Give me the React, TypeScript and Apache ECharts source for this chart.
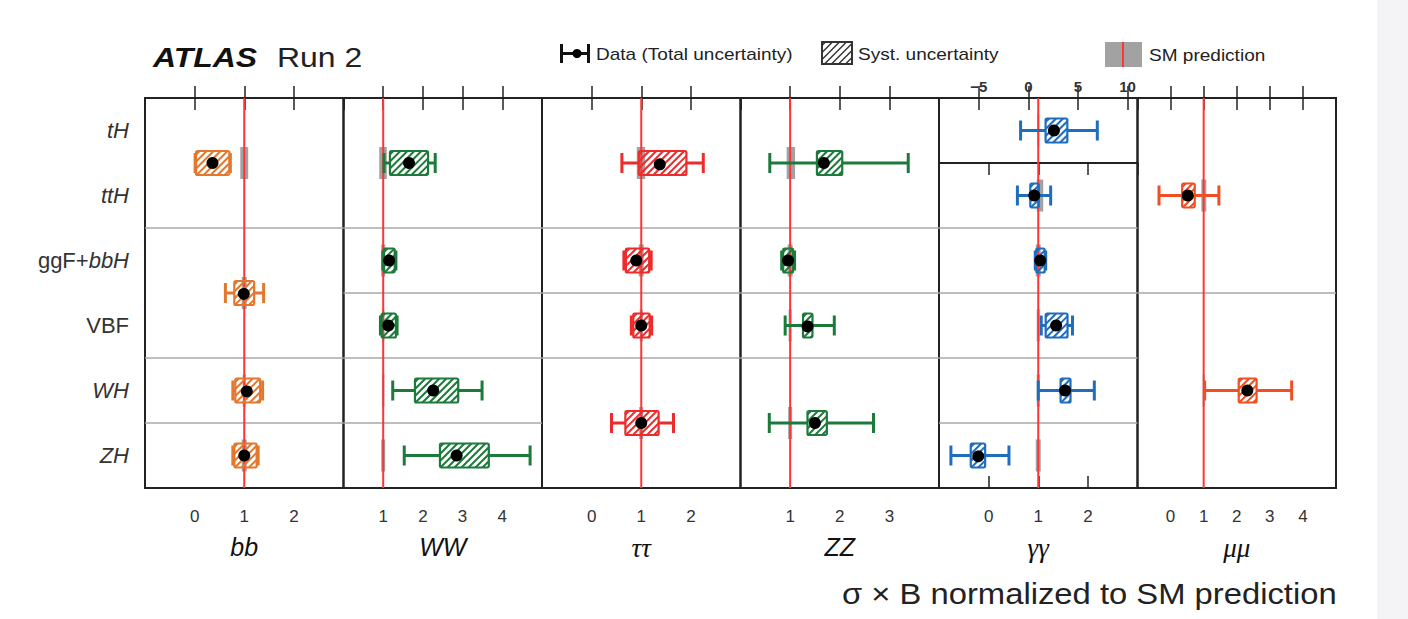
import React, { useEffect, useRef } from 'react';
import * as echarts from 'echarts';

// ---------------- data ----------------
const productionModes = ['tH', 'ttH', 'ggF+bbH', 'VBF', 'WH', 'ZH'];
const decayChannels = ['bb', 'WW', 'ττ', 'ZZ', 'γγ', 'μμ'];
const smPrediction = 1;

// each point: [row centre, value, total lo, total hi, syst lo, syst hi, SM band lo, SM band hi]
const bbPoints = [
  [1.0, 0.36, 0.01, 0.72, 0.03, 0.7, 0.92, 1.08],
  [3.0, 0.99, 0.62, 1.39, 0.8, 1.2, 0.95, 1.05],
  [4.5, 1.05, 0.77, 1.37, 0.82, 1.32, 0.97, 1.03],
  [5.5, 1.0, 0.77, 1.28, 0.8, 1.25, 0.95, 1.05],
];
const wwPoints = [
  [1.0, 1.65, 1.02, 2.31, 1.17, 2.13, 0.9, 1.09],
  [2.5, 1.15, 0.99, 1.32, 1.02, 1.29, 0.95, 1.05],
  [3.5, 1.13, 0.93, 1.35, 0.96, 1.32, 0.97, 1.03],
  [4.5, 2.26, 1.24, 3.49, 1.8, 2.89, 0.97, 1.03],
  [5.5, 2.85, 1.53, 4.7, 2.43, 3.66, 0.95, 1.05],
];
const tautauPoints = [
  [1.0, 1.37, 0.61, 2.25, 0.95, 1.91, 0.91, 1.08],
  [2.5, 0.9, 0.65, 1.2, 0.69, 1.16, 0.95, 1.05],
  [3.5, 1.0, 0.8, 1.21, 0.84, 1.17, 0.97, 1.03],
  [5.0, 1.0, 0.4, 1.65, 0.68, 1.35, 0.96, 1.04],
];
const zzPoints = [
  [1.0, 1.68, 0.59, 3.38, 1.54, 2.05, 0.93, 1.1],
  [2.5, 0.96, 0.83, 1.09, 0.86, 1.06, 0.95, 1.05],
  [3.5, 1.35, 0.9, 1.89, 1.26, 1.45, 0.97, 1.03],
  [5.0, 1.5, 0.58, 2.68, 1.35, 1.74, 0.96, 1.04],
];
const gamgamTHPoints = [[0.5, 2.58, -0.78, 6.95, 1.74, 3.93, 0.9, 1.1]];
const gamgamPoints = [
  [1.5, 0.92, 0.58, 1.25, 0.84, 1.01, 0.97, 1.1],
  [2.5, 1.04, 0.94, 1.15, 0.96, 1.13, 0.95, 1.05],
  [3.5, 1.36, 1.06, 1.69, 1.15, 1.59, 0.97, 1.03],
  [4.5, 1.54, 1.0, 2.13, 1.45, 1.65, 0.97, 1.03],
  [5.5, -0.21, -0.76, 0.41, -0.36, -0.07, 0.95, 1.05],
];
const mumuPoints = [
  [1.5, 0.52, -0.35, 1.46, 0.35, 0.73, 0.93, 1.08],
  [4.5, 2.32, 1.03, 3.66, 2.06, 2.6, 0.97, 1.03],
];

// row boundaries drawn as grey separators
const bbSeparators = [2, 4, 5];
const wwSeparators = [2, 3, 4, 5];
const tautauSeparators = [2, 3, 4];
const zzSeparators = [2, 3, 4];
const gamgamSeparators = [2, 3, 4, 5];
const mumuSeparators = [3];

const gamgamTHTicks = [-5, 0, 5, 10];

// ---------------- style / layout ----------------
const SANS = '"Liberation Sans", Arial, Helvetica, sans-serif';
const SERIF = '"Liberation Serif", "DejaVu Serif", serif';

const panels = [
  { name: decayChannels[0], min: -1, max: 3, color: '#e3772d', points: bbPoints, seps: bbSeparators, greek: false },
  { name: decayChannels[1], min: 0, max: 5, color: '#1c7a3b', points: wwPoints, seps: wwSeparators, greek: false },
  { name: decayChannels[2], min: -1, max: 3, color: '#ee2b2b', points: tautauPoints, seps: tautauSeparators, greek: true },
  { name: decayChannels[3], min: 0, max: 4, color: '#1c7a3b', points: zzPoints, seps: zzSeparators, greek: false },
  { name: decayChannels[4], min: -1, max: 3, color: '#1f6dbd', points: gamgamPoints, seps: gamgamSeparators, greek: true },
  { name: decayChannels[5], min: -1, max: 5, color: '#f04e23', points: mumuPoints, seps: mumuSeparators, greek: true },
];

const L0 = 145;
const PW = 198.5;
const TOP = 98;
const H = 390;
const ROW = 65;

function hatchLines(x0: number, y0: number, w: number, h: number, step: number) {
  const segs: number[][] = [];
  const cStart = x0 + y0;
  const cEnd = x0 + w + y0 + h;
  for (let c = cStart + step / 2; c < cEnd; c += step) {
    const xa = Math.max(x0, c - (y0 + h));
    const xb = Math.min(x0 + w, c - y0);
    if (xb > xa + 0.3) segs.push([xa, c - xa, xb, c - xb]);
  }
  return segs;
}

const renderBand = (params: any, api: any) => {
  const row = api.value(0);
  const a = api.coord([api.value(6), row]);
  const b = api.coord([api.value(7), row]);
  return {
    type: 'rect',
    shape: { x: a[0], y: a[1] - 16, width: Math.max(1.5, b[0] - a[0]), height: 32 },
    style: { fill: '#a2a2a2' },
  };
};

const renderSmLine = (params: any, api: any) => {
  const cs = params.coordSys;
  const x = api.coord([api.value(1), api.value(0)])[0];
  return {
    type: 'line',
    shape: { x1: x, y1: cs.y, x2: x, y2: cs.y + cs.height },
    style: { stroke: '#ff3535', lineWidth: 2 },
  };
};

const renderSeparator = (params: any, api: any) => {
  const cs = params.coordSys;
  const y = api.coord([api.value(1), api.value(0)])[1];
  return {
    type: 'line',
    shape: { x1: cs.x, y1: y, x2: cs.x + cs.width, y2: y },
    style: { stroke: '#a9a9a9', lineWidth: 1.5 },
  };
};

const makeRenderPoint = (color: string) => (params: any, api: any) => {
  const row = api.value(0);
  const c = api.coord([api.value(1), row]);
  const tl = api.coord([api.value(2), row])[0];
  const th = api.coord([api.value(3), row])[0];
  const sl = api.coord([api.value(4), row])[0];
  const sh = api.coord([api.value(5), row])[0];
  const y = c[1];
  const children: any[] = [];
  const bx = sl;
  const bw = sh - sl;
  const by = y - 12;
  const bh = 24;
  hatchLines(bx, by, bw, bh, 7).forEach((s) => {
    children.push({
      type: 'line',
      shape: { x1: s[0], y1: s[1], x2: s[2], y2: s[3] },
      style: { stroke: color, lineWidth: 2 },
    });
  });
  children.push({
    type: 'rect',
    shape: { x: bx, y: by, width: bw, height: bh, r: 1.5 },
    style: { fill: 'none', stroke: color, lineWidth: 2.2 },
  });
  if (sl - tl > 0.5) {
    children.push({ type: 'line', shape: { x1: tl, y1: y, x2: sl, y2: y }, style: { stroke: color, lineWidth: 3 } });
  }
  if (th - sh > 0.5) {
    children.push({ type: 'line', shape: { x1: sh, y1: y, x2: th, y2: y }, style: { stroke: color, lineWidth: 3 } });
  }
  [tl, th].forEach((x) => {
    children.push({ type: 'line', shape: { x1: x, y1: y - 10, x2: x, y2: y + 10 }, style: { stroke: color, lineWidth: 3 } });
  });
  children.push({ type: 'circle', shape: { cx: c[0], cy: y, r: 6 }, style: { fill: '#000' } });
  return { type: 'group', children };
};

function yLabel(v: number) {
  const k = Math.round(v * 2);
  if (k % 2 === 0) return '';
  const lab = productionModes[(k - 1) / 2];
  if (!lab) return '';
  if (lab.startsWith('ggF+')) return '{n|ggF+}{i|' + lab.slice(4) + '}';
  if (lab === 'VBF') return '{n|VBF}';
  return '{i|' + lab + '}';
}

function buildOption() {
  const grid: any[] = [];
  const xAxis: any[] = [];
  const yAxis: any[] = [];
  const series: any[] = [];

  const tick = { show: true, inside: true, length: 12, lineStyle: { color: '#222', width: 1.5 } };

  panels.forEach((p, i) => {
    const isGG = i === 4;
    grid.push({
      left: L0 + i * PW,
      top: isGG ? TOP + ROW : TOP,
      width: PW,
      height: isGG ? H - ROW : H,
      show: true,
      borderColor: '#222',
      borderWidth: 2,
      backgroundColor: 'transparent',
    });
    xAxis.push({
      type: 'value',
      gridIndex: i,
      position: 'bottom',
      min: p.min,
      max: p.max,
      interval: 1,
      axisLine: { show: false },
      splitLine: { show: false },
      axisTick: tick,
      axisLabel: {
        show: true,
        showMinLabel: false,
        showMaxLabel: false,
        margin: 20,
        fontSize: 17,
        color: '#333',
        fontFamily: SANS,
      },
      name: p.name,
      nameLocation: 'middle',
      nameGap: 46,
      nameTextStyle: {
        fontStyle: 'italic',
        fontFamily: p.greek ? SERIF : SANS,
        fontSize: p.greek ? 27 : 25,
        color: '#111',
      },
    });
    xAxis.push({
      type: 'value',
      gridIndex: i,
      position: 'top',
      min: p.min,
      max: p.max,
      interval: 1,
      axisLine: { show: false },
      splitLine: { show: false },
      axisTick: tick,
      axisLabel: { show: false },
    });
    yAxis.push({
      type: 'value',
      gridIndex: i,
      min: isGG ? 1 : 0,
      max: 6,
      interval: 0.5,
      inverse: true,
      axisLine: { show: false },
      axisTick: { show: false },
      splitLine: { show: false },
      axisLabel: i === 0
        ? {
            show: true,
            margin: 16,
            formatter: yLabel,
            fontSize: 22,
            fontFamily: SANS,
            color: '#333',
            rich: {
              i: { fontStyle: 'italic', fontSize: 22, fontFamily: SANS, color: '#333' },
              n: { fontSize: 22, fontFamily: SANS, color: '#333' },
            },
          }
        : { show: false },
    });
  });

  // γγ tH sub-panel
  grid.push({
    left: L0 + 4 * PW,
    top: TOP,
    width: PW,
    height: ROW,
    show: true,
    borderColor: '#222',
    borderWidth: 2,
    backgroundColor: 'transparent',
  });
  xAxis.push({
    type: 'value',
    gridIndex: 6,
    position: 'bottom',
    min: -9,
    max: 11,
    axisLine: { show: false },
    splitLine: { show: false },
    axisTick: { ...tick, customValues: gamgamTHTicks },
    axisLabel: { show: false },
  });
  xAxis.push({
    type: 'value',
    gridIndex: 6,
    position: 'top',
    min: -9,
    max: 11,
    axisLine: { show: false },
    splitLine: { show: false },
    axisTick: { ...tick, customValues: gamgamTHTicks },
    axisLabel: {
      show: true,
      customValues: gamgamTHTicks,
      margin: 4,
      fontSize: 15,
      fontWeight: 'bold',
      color: '#333',
      fontFamily: SANS,
      formatter: (v: number) => String(v).replace('-', '\u2212'),
    },
  });
  yAxis.push({
    type: 'value',
    gridIndex: 6,
    min: 0,
    max: 1,
    inverse: true,
    show: false,
    splitLine: { show: false },
  });

  const addSeries = (gi: number, pts: number[][], seps: number[], color: string, minV: number) => {
    const base = {
      type: 'custom',
      coordinateSystem: 'cartesian2d',
      xAxisIndex: 2 * gi,
      yAxisIndex: gi,
      encode: { x: 1, y: 0 },
      clip: false,
      silent: true,
    };
    series.push({ ...base, z: 1, renderItem: renderBand, data: pts });
    series.push({ ...base, z: 2, renderItem: renderSeparator, data: seps.map((s) => [s, minV]) });
    series.push({ ...base, z: 3, renderItem: renderSmLine, data: [[gi === 6 ? 0 : 1, smPrediction]] });
    series.push({ ...base, z: 4, renderItem: makeRenderPoint(color), data: pts });
  };

  panels.forEach((p, i) => addSeries(i, p.points, p.seps, p.color, p.min));
  addSeries(6, gamgamTHPoints, [], panels[4].color, -9);

  const legendHatch = hatchLines(822, 42, 30, 22, 7).map((s) => ({
    type: 'line',
    shape: { x1: s[0], y1: s[1], x2: s[2], y2: s[3] },
    style: { stroke: '#333', lineWidth: 1.4 },
  }));

  const graphic: any[] = [
    { type: 'rect', z: -10, shape: { x: 1377, y: 0, width: 31, height: 619 }, style: { fill: '#f4f4f6' } },
    {
      type: 'text', x: 153, y: 57, scaleX: 1.14,
      style: { text: 'ATLAS', fontSize: 28, fontWeight: 'bold', fontStyle: 'italic', fontFamily: SANS, fill: '#111', verticalAlign: 'middle', align: 'left' },
    },
    {
      type: 'text', x: 277, y: 57, scaleX: 1.14,
      style: { text: 'Run 2', fontSize: 28, fontFamily: SANS, fill: '#222', verticalAlign: 'middle', align: 'left' },
    },
    // legend: data
    { type: 'line', shape: { x1: 561, y1: 53.5, x2: 589, y2: 53.5 }, style: { stroke: '#111', lineWidth: 3 } },
    { type: 'line', shape: { x1: 561.5, y1: 44, x2: 561.5, y2: 63 }, style: { stroke: '#111', lineWidth: 3 } },
    { type: 'line', shape: { x1: 588.5, y1: 44, x2: 588.5, y2: 63 }, style: { stroke: '#111', lineWidth: 3 } },
    { type: 'circle', shape: { cx: 577, cy: 53.5, r: 4.5 }, style: { fill: '#000' } },
    {
      type: 'text', x: 596, y: 54, scaleX: 1.12,
      style: { text: 'Data (Total uncertainty)', fontSize: 17, fontFamily: SANS, fill: '#222', verticalAlign: 'middle', align: 'left' },
    },
    // legend: syst
    ...legendHatch,
    { type: 'rect', shape: { x: 822, y: 42, width: 30, height: 22 }, style: { fill: 'none', stroke: '#333', lineWidth: 2 } },
    {
      type: 'text', x: 858, y: 54, scaleX: 1.12,
      style: { text: 'Syst. uncertainty', fontSize: 17, fontFamily: SANS, fill: '#222', verticalAlign: 'middle', align: 'left' },
    },
    // legend: SM
    { type: 'rect', shape: { x: 1105, y: 42, width: 37, height: 25 }, style: { fill: '#a2a2a2' } },
    { type: 'line', shape: { x1: 1123, y1: 42, x2: 1123, y2: 67 }, style: { stroke: '#ff3535', lineWidth: 2 } },
    {
      type: 'text', x: 1149, y: 55, scaleX: 1.12,
      style: { text: 'SM prediction', fontSize: 17, fontFamily: SANS, fill: '#222', verticalAlign: 'middle', align: 'left' },
    },
    // bottom axis title
    {
      type: 'text', x: 842, y: 594, scaleX: 1.13,
      style: { text: 'σ × B normalized to SM prediction', fontSize: 29, fontFamily: SANS, fill: '#222', verticalAlign: 'middle', align: 'left' },
    },
  ];

  return {
    animation: false,
    backgroundColor: '#ffffff',
    grid,
    xAxis,
    yAxis,
    series,
    graphic,
  };
}

export default function App() {
  const ref = useRef<HTMLDivElement>(null);
  useEffect(() => {
    if (!ref.current) return;
    const chart = echarts.init(ref.current, null, { renderer: 'svg' });
    chart.setOption(buildOption() as any);
    return () => chart.dispose();
  }, []);
  return (
    <div
      ref={ref}
      style={{ position: 'absolute', left: 0, top: 0, width: 1408, height: 619, background: '#fff' }}
    />
  );
}
